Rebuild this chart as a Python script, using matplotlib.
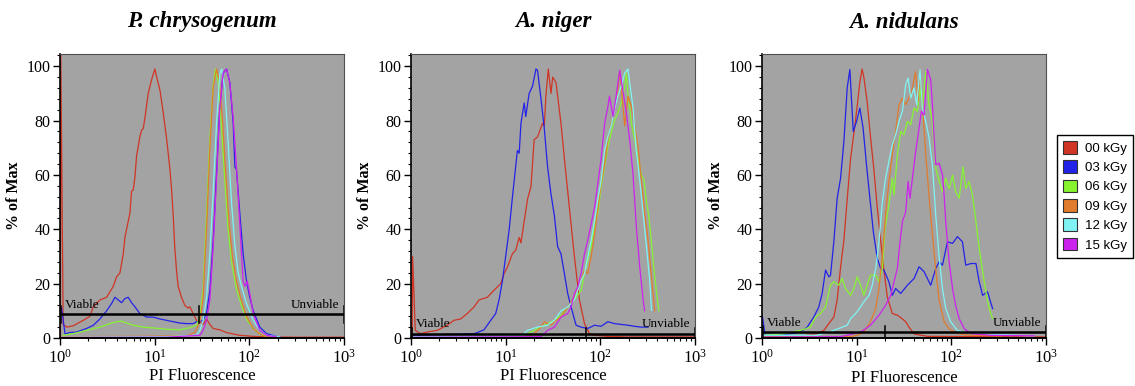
import numpy as np
import matplotlib.pyplot as plt
from matplotlib.patches import Patch
from matplotlib.ticker import LogLocator, MultipleLocator, LogFormatterMathtext

plt.rcParams['font.family'] = ['Liberation Serif', 'DejaVu Serif']
plt.rcParams['mathtext.fontset'] = 'custom'
plt.rcParams['mathtext.rm'] = 'Liberation Serif'

# ---------------- data ----------------
titles = ["P. chrysogenum", "A. niger", "A. nidulans"]
doses = ["00 kGy", "03 kGy", "06 kGy", "09 kGy", "12 kGy", "15 kGy"]
colors = ["#d03525", "#2323e8", "#86f530", "#e07c2c", "#80f4f4", "#cc22ee"]

# P. chrysogenum
pc_red_x = [1.01, 1.02, 1.08, 1.18, 1.38, 1.76, 2.07, 2.25, 2.64, 3.11, 3.65, 3.96, 4.30, 4.66, 4.85,
            5.05, 5.48, 5.70, 5.94, 6.18, 6.44, 6.71, 6.98, 7.27, 7.57, 7.89, 8.55, 9.27, 10.05, 10.5,
            11.4, 12.3, 13.4, 14.5, 15.1, 15.7, 16.3, 17.0, 17.7, 19.2, 20.8, 22.6, 23.5, 25.5, 27.7,
            30.0, 32.5, 35.3, 38.3, 41.5, 48.8, 57.4, 67.5, 79.3, 110, 152, 300, 1000]
pc_red_y = [0, 105, 5, 4, 4.5, 6.5, 8, 11.5, 14, 15, 19, 22.5, 24, 31, 37,
            40, 46, 54, 54.5, 59, 67, 70.5, 74, 76.5, 77, 81, 90, 95, 99, 96,
            91, 83, 73, 62, 54.5, 45, 33.5, 25, 19, 15, 12, 11, 11.5, 9, 6.5,
            6, 5, 7, 5, 3.5, 3, 2, 1.5, 1, 0.6, 0.4, 0.3, 0.3]
pc_blue_x = [1.04, 1.13, 1.27, 1.50, 1.91, 2.25, 2.64, 3.11, 3.51, 3.81, 4.12, 4.47, 4.85, 5.26, 5.70,
             6.18, 6.98, 8.2, 9.6, 11.4, 13.4, 15.7, 18.4, 21.7, 25.5, 27.7, 30.0, 32.5, 35.3, 38.3,
             41.5, 45.0, 48.8, 52.9, 57.4, 62.2, 67.5, 70.3, 73.1, 79.3, 86.0, 93.3, 101, 110, 129,
             152, 193, 228]
pc_blue_y = [11, 1.5, 2, 2.2, 3.5, 4.7, 7, 10, 12.7, 15, 14, 13, 14.5, 15, 13,
             11.5, 9, 7.7, 7.7, 7, 6.5, 6, 5.5, 5.3, 5.3, 6, 6, 6.5, 9, 17.6,
             36, 60.6, 85, 97.5, 99, 94, 79, 63, 62, 46, 31, 21, 15, 10, 4,
             1.6, 0.6, 0]
pc_green_x = [1.08, 1.38, 1.91, 2.64, 3.37, 3.96, 4.47, 5.05, 5.94, 7.57, 9.6, 13.4, 18.4, 23.5, 27.7,
              30.0, 32.5, 35.3, 38.3, 41.5, 43.9, 46.9, 50.8, 55.1, 59.7, 64.8, 73.1, 82.6, 93.3, 110,
              129, 152]
pc_green_y = [1, 1.6, 2.8, 4, 5.3, 6, 6.2, 5.5, 4.7, 4, 3.7, 3.2, 3, 3.8, 4.7,
              8, 18, 45, 73, 93, 99, 94, 78, 58, 40, 28, 18, 12, 7, 3.5,
              1.5, 0.6]
pc_orange_x = [1.08, 5.94, 21.7, 26.6, 30.0, 32.5, 35.3, 38.3, 41.5, 45.0, 48.0, 52.1, 56.5, 61.2, 66.4,
               73.1, 80.6, 93.3, 110, 129, 152]
pc_orange_y = [0.5, 0.6, 0.8, 2, 6, 15, 40, 70, 92, 99, 95, 80, 60, 42, 30,
               21, 15, 8, 3.5, 1.5, 0.4]
pc_cyan_x = [1.08, 13.4, 27.7, 30.0, 32.5, 35.3, 38.3, 41.5, 45.0, 48.8, 50.8, 55.1, 59.7, 64.8, 70.3,
             76.2, 82.6, 93.3, 110, 129, 152, 210]
pc_cyan_y = [0.3, 0.5, 1, 2.8, 6.5, 15, 31, 54, 79, 97, 99, 92, 72, 50, 34,
             24, 19, 12.7, 6.5, 2.8, 1, 0.4]
pc_magenta_x = [1.08, 13.4, 30.0, 32.5, 35.3, 38.3, 41.5, 45.0, 48.8, 52.9, 57.4, 62.2, 67.5, 73.1, 79.3,
                82.6, 86.0, 89.6, 94.8, 101, 110, 129, 152, 193]
pc_magenta_y = [0.2, 0.3, 1, 2.8, 6.5, 14, 33.6, 58, 85, 97.5, 99, 94, 81, 63, 42,
                31, 21, 19, 21, 16.4, 9, 2.8, 1, 0.4]

# A. niger
na_red_x = [1.03, 1.04, 1.11, 1.26, 1.48, 1.89, 2.41, 2.84, 3.34, 3.93, 4.62, 5.23, 6.41, 7.54, 8.18,
            8.87, 9.62, 10.4, 11.8, 12.8, 13.9, 14.5, 15.7, 17.0, 18.5, 20.0, 21.7, 24.5, 25.6, 26.6,
            28.2, 30.1, 31.4, 34.0, 35.4, 38.4, 41.7, 47.1, 53.2, 60.2, 68.0, 76.8, 86.8, 120, 196,
            1000]
na_red_y = [0, 30, 2.8, 1.6, 2.2, 2.8, 4.7, 6.5, 7, 9, 11.4, 14, 15, 17.6, 18.8,
            20, 23.7, 26, 31, 32.4, 37, 35, 43, 51, 55.7, 73, 74, 79, 78, 89,
            99, 90, 96, 94, 89, 79, 66, 48, 30, 14, 5.3, 1.6, 1, 0.6, 0.4,
            0.4]
na_blue_x = [1.07, 4.62, 5.01, 5.90, 6.95, 7.85, 8.51, 9.24, 10.0, 10.9, 11.8, 13.3, 13.9, 14.5, 15.7,
             16.3, 17.7, 19.2, 20.9, 21.7, 23.6, 25.6, 27.7, 30.1, 32.7, 35.4, 38.4, 41.7, 45.2, 49.1,
             55.4, 62.6, 73.7, 86.8, 102, 120, 141, 166, 196, 231, 271, 319]
na_blue_y = [1, 1.6, 2, 3, 6.5, 9, 14, 21, 30, 40, 52, 69, 68, 79, 86.5,
             81.5, 90, 92.6, 99, 98.5, 88, 77, 63, 53, 45, 33.6, 31, 23.7, 16.4, 11.4,
             4.7, 4, 3.5, 4.7, 4.3, 6, 5.3, 5, 4.7, 4.3, 4, 4]
na_green_x = [1.07, 3.34, 14.5, 17.0, 20.0, 23.6, 27.7, 32.7, 38.4, 45.2, 53.2, 62.6, 68.0, 73.7, 80.0,
              86.8, 94.2, 102, 111, 120, 130, 141, 153, 166, 181, 188, 196, 213, 231, 250,
              271, 290, 307, 325, 347, 376, 415]
na_green_y = [0.4, 0.5, 0.6, 1.6, 2.8, 4, 5.3, 6.5, 8.4, 11.4, 14, 17.6, 23.7, 28.7, 33.6,
              41, 46, 55.7, 63, 70.5, 75.4, 80, 82.8, 86.5, 92.6, 97.5, 90, 79, 73, 66,
              60, 58, 50, 45, 35, 22, 10]
na_orange_x = [1.07, 17.0, 20.0, 23.6, 25.6, 27.7, 30.1, 32.7, 38.4, 45.2, 53.2, 62.6, 68.0, 73.7, 80.0,
               86.8, 94.2, 102, 111, 120, 130, 141, 153, 160, 166, 181, 196, 213, 231, 250,
               271, 294, 319, 341, 376]
na_orange_y = [0.4, 0.5, 1.6, 4, 6, 5.3, 4.7, 6, 7.7, 11.4, 15, 21, 25, 23.7, 30,
               38, 48, 57, 64, 73, 79, 84, 91, 98.5, 92.6, 78, 89, 85, 78, 70.5,
               58, 46, 36, 25, 10]
na_cyan_x = [1.07, 14.5, 17.0, 21.7, 27.7, 32.7, 38.4, 45.2, 53.2, 62.6, 68.0, 73.7, 80.0, 86.8, 94.2,
             102, 111, 120, 130, 141, 153, 166, 181, 196, 204, 221, 240, 261, 283, 307,
             333, 347]
na_cyan_y = [0.5, 0.6, 2.8, 4, 4.7, 6.5, 10, 11.4, 14, 21, 23.7, 30, 36, 43, 51,
             58, 69, 74, 78, 84, 89, 92.6, 97.5, 99, 94, 85, 69, 58, 46, 33.6,
             21, 10.2]
na_magenta_x = [1.07, 23.6, 27.7, 32.7, 38.4, 45.2, 49.1, 53.2, 57.8, 62.6, 68.0, 73.7, 80.0, 86.8, 94.2,
                102, 111, 120, 125, 136, 147, 160, 173, 188, 204, 221, 240, 261, 283, 294]
na_magenta_y = [0.3, 0.5, 2.8, 4, 7.7, 9, 11.4, 16.4, 18.8, 23.7, 31, 36, 42, 48, 57,
                66, 79, 85, 89, 81.5, 89, 98.5, 91, 83, 73, 60.6, 41, 26, 14, 10]

# A. nidulans
an_red_x = [1.04, 2.55, 3.82, 4.50, 5.08, 5.74, 6.22, 6.76, 7.33, 7.94, 8.62, 9.35, 10.1, 10.8, 11.4,
            11.9, 12.9, 14.0, 15.2, 16.5, 17.9, 19.4, 21.1, 23.8, 26.9, 29.2, 33.0, 35.7, 40.4, 55.9,
            1000]
an_red_y = [0.3, 0.6, 1.6, 2.8, 5.3, 7.7, 14, 26, 36, 51, 66, 75.4, 85, 94, 99,
            96, 87, 74, 62, 48, 36, 25, 15, 9, 8.4, 7.5, 6, 4, 1.5, 0.6,
            0.4]
an_blue_x = [1.01, 1.08, 1.44, 2.00, 2.55, 3.00, 3.52, 3.98, 4.32, 4.69, 5.08, 5.29, 5.74, 6.22, 6.76,
             7.33, 7.94, 8.48, 9.20, 9.98, 10.8, 11.7, 12.7, 13.8, 15.0, 16.5, 17.9, 19.4, 21.9, 23.8,
             25.8, 29.2, 34.3, 40.4, 45.6, 51.5, 60.6, 68.5, 74.3, 80.6, 91.0, 103, 116, 131, 142,
             161, 182, 197, 214, 241, 273]
an_blue_y = [8, 1, 1, 1.6, 2.2, 4, 7.7, 11.4, 16.4, 25, 22.5, 23, 35.4, 51.4, 58.8,
             72.3, 92, 98.8, 76, 79.7, 84.6, 77.2, 63.7, 51.4, 39.1, 29.3, 25.6, 25, 20.7, 15.7,
             18.2, 16.4, 19.4, 21.9, 26.2, 24.4, 19.4, 25.6, 28, 26.8, 35.4, 34.8, 37.3, 35.4, 26.8,
             27.4, 27.4, 20.7, 15.7, 17, 10.8]
an_green_x = [1.04, 1.70, 2.55, 3.25, 3.67, 4.15, 4.69, 5.29, 5.74, 6.48, 7.03, 7.63, 8.62, 9.35, 10.1,
              11.0, 11.9, 12.9, 14.0, 15.9, 17.2, 18.7, 19.9, 21.9, 23.8, 24.8, 26.9, 29.2, 31.6, 34.3,
              37.2, 40.4, 43.8, 46.7, 49.5, 53.7, 58.2, 63.1, 68.5, 74.3, 80.6, 87.3, 94.8, 103, 111,
              121, 133, 142, 154, 167, 182, 197, 214, 232, 251, 273]
an_green_y = [1, 1.5, 2.8, 4, 7.7, 9, 11.4, 19.4, 20.7, 19.4, 21.9, 18.2, 15.7, 18.2, 22.5,
              19.4, 15.7, 19.4, 23.1, 23.1, 20.7, 25.6, 40.3, 49, 58.8, 52.6, 67.4, 76, 74.8, 79.7,
              78.5, 84.6, 83.4, 92, 84.6, 98, 85.8, 79.7, 62.5, 57.6, 53.9, 58.8, 55, 60, 53.9,
              51.4, 63, 55, 57.6, 52.6, 42.8, 33, 24.4, 17, 10.8, 7.1]
an_orange_x = [1.04, 8.62, 10.1, 11.9, 14.0, 15.9, 17.2, 18.7, 20.2, 21.9, 23.8, 25.8, 28.0, 30.4, 33.0,
               35.7, 38.8, 42.0, 44.5, 46.7, 49.5, 53.7, 58.2, 63.1, 68.5, 74.3, 83.9, 94.8, 116, 161,
               334]
an_orange_y = [0.4, 0.5, 1, 2.2, 6, 10.8, 18.2, 30.5, 45.3, 57.6, 67.4, 76, 85.8, 88.3, 85.8,
               88.3, 92, 98, 87, 98.8, 85.8, 67.4, 52, 38, 25, 14, 6, 3.4, 1.6, 1,
               0.8]
an_cyan_x = [1.04, 3.82, 5.74, 7.94, 8.62, 10.1, 11.9, 13.5, 14.6, 15.9, 17.2, 18.7, 20.2, 21.9, 23.8,
             25.8, 28.0, 30.4, 33.0, 34.9, 37.2, 40.4, 43.1, 46.7, 49.5, 53.7, 58.2, 63.1, 68.5, 74.3,
             80.6, 87.3, 98.7, 116, 137, 205, 462, 753]
an_cyan_y = [1, 1, 2.8, 4.7, 7.1, 9.6, 13.3, 15.7, 19.4, 25.6, 35.4, 50.2, 58.8, 64.9, 71,
             74.8, 79.7, 83.4, 93.2, 95.7, 88.3, 92, 85.8, 98.8, 84.6, 79.7, 73.6, 63.7, 45, 30,
             18.2, 10.8, 5.9, 2.8, 2.2, 1.6, 1, 0.8]
an_magenta_x = [1.04, 6.76, 7.94, 11.0, 14.0, 17.2, 20.2, 22.9, 24.8, 26.9, 28.7, 30.4, 33.0, 34.9, 36.6,
                38.8, 42.0, 45.6, 48.3, 51.5, 55.9, 60.6, 63.1, 65.8, 68.5, 74.3, 80.6, 83.9, 87.3, 94.8,
                103, 111, 121, 137, 161, 262, 753]
an_magenta_y = [0.3, 0.5, 1, 2.2, 4.7, 8.4, 12, 15.7, 20.7, 25.6, 35.4, 42.8, 46.5, 57.6, 51.4,
                58.8, 68.6, 77.2, 83.4, 82, 98.8, 95, 85.8, 73.6, 63.7, 64.3, 60, 52.6, 42.8, 28,
                18.2, 12, 7.1, 3.4, 1.6, 1, 0.8]

# viable / unviable gate (height, split position) per panel
gate_y = [8.7, 1.6, 2.2]
gate_split = [29.3, 70.8, 19.9]

panels = [
    [(pc_red_x, pc_red_y), (pc_blue_x, pc_blue_y), (pc_green_x, pc_green_y),
     (pc_orange_x, pc_orange_y), (pc_cyan_x, pc_cyan_y), (pc_magenta_x, pc_magenta_y)],
    [(na_red_x, na_red_y), (na_blue_x, na_blue_y), (na_green_x, na_green_y),
     (na_orange_x, na_orange_y), (na_cyan_x, na_cyan_y), (na_magenta_x, na_magenta_y)],
    [(an_red_x, an_red_y), (an_blue_x, an_blue_y), (an_green_x, an_green_y),
     (an_orange_x, an_orange_y), (an_cyan_x, an_cyan_y), (an_magenta_x, an_magenta_y)],
]

# ---------------- figure ----------------
W, H = 1135, 386
fig = plt.figure(figsize=(W / 100, H / 100), dpi=100)

ax_left = [60, 411, 762]
ax_w = 284
ax_top, ax_bot = 54, 338
xlabel_pad = [1, 1, 2]

for i in range(3):
    ax = fig.add_axes([ax_left[i] / W, 1 - ax_bot / H, ax_w / W, (ax_bot - ax_top) / H])
    ax.set_facecolor('#a3a3a3')
    for (xs, ys), c in zip(panels[i], colors):
        ax.plot(xs, ys, color=c, lw=0.9, clip_on=True)

    # gate
    g = gate_y[i]
    ax.plot([1.0, 1000], [g, g], color='black', lw=1.8, solid_capstyle='butt')
    dh = 3 if i == 0 else 2.2
    for gx in [1.03, gate_split[i], 990]:
        ax.plot([gx, gx], [max(g - dh, 0), g + dh], color='black', lw=1.1)
    ax.text(1.12, g + 1.2, "Viable", fontsize=9.5, ha='left', va='bottom')
    ax.text(900, g + 1.2, "Unviable", fontsize=9.5, ha='right', va='bottom')

    ax.set_xscale('log')
    ax.set_xlim(1, 1000)
    ax.set_ylim(0, 104.5)
    ax.yaxis.set_major_locator(MultipleLocator(20))
    ax.yaxis.set_minor_locator(MultipleLocator(4))
    ax.xaxis.set_major_locator(LogLocator(base=10, numticks=5))
    ax.xaxis.set_minor_locator(LogLocator(base=10, subs=np.arange(2, 10), numticks=20))
    ax.xaxis.set_major_formatter(LogFormatterMathtext())
    ax.tick_params(axis='both', which='major', length=5, width=1, direction='out', labelsize=11.5, pad=2)
    ax.tick_params(axis='both', which='minor', length=2.5, width=0.8, direction='out')
    ax.tick_params(axis='x', which='major', pad=3, labelsize=12)

    ax.spines['bottom'].set_linewidth(1.4)
    ax.spines['left'].set_linewidth(1.2)
    for s in ['top', 'right']:
        ax.spines[s].set_color('#505050')
        ax.spines[s].set_linewidth(0.8)

    ax.set_xlabel("PI Fluorescence", fontsize=12, labelpad=xlabel_pad[i])
    ax.set_ylabel("% of Max", fontsize=11.5, fontweight='bold', labelpad=3)

    cx = (ax_left[i] + ax_w / 2) / W
    fig.text(cx, 1 - 22 / H, titles[i], ha='center', va='center', fontsize=16.5,
             fontweight='bold', fontstyle='italic')

handles = [Patch(facecolor=c, edgecolor='#333333', linewidth=0.8) for c in colors]
fig.legend(handles, doses, loc='upper left', bbox_to_anchor=(1057 / W, 1 - 135 / H),
           frameon=True, fancybox=False, edgecolor='black', framealpha=1,
           prop={'family': 'Liberation Sans', 'size': 9.5}, handlelength=1.1, handleheight=1.1,
           handletextpad=0.6, labelspacing=0.42, borderpad=0.45, borderaxespad=0)

fig.savefig("out.png", dpi=100)
